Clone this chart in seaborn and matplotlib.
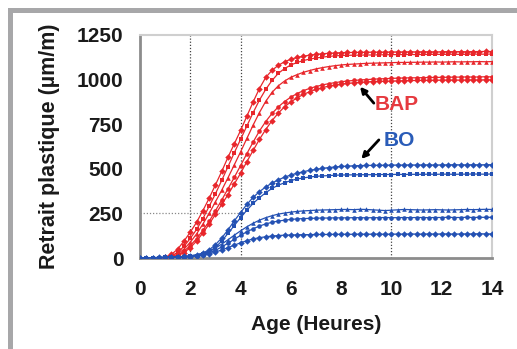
import numpy as np
import pandas as pd
import seaborn as sns
import matplotlib.pyplot as plt
from matplotlib.patches import Rectangle

# heures
t_bap = np.arange(1.0, 14.01, 0.25)
t_bo = np.arange(0.0, 14.01, 0.25)

# retrait plastique (µm/m) - BAP
bap_1 = [5, 20, 50, 95, 145, 200, 265, 335, 410, 485, 565, 640, 715, 795, 875, 950, 1012, 1052, 1080,
         1100, 1114, 1124, 1131, 1137, 1141, 1145, 1147, 1149, 1151,
         1152, 1152, 1153, 1153, 1154, 1154, 1154, 1155, 1155, 1155, 1156, 1155, 1156, 1156, 1155, 1156,
         1157, 1156, 1157, 1156, 1157, 1157, 1158, 1157]
bap_2 = [3, 12, 32, 65, 110, 160, 220, 290, 360, 435, 512, 590, 665, 740, 815, 885, 945, 995, 1035,
         1062, 1082, 1096, 1107, 1115, 1121, 1126, 1130, 1133, 1135,
         1136, 1137, 1137, 1138, 1138, 1139, 1139, 1140, 1140, 1140, 1141, 1140, 1141, 1141, 1142, 1141,
         1142, 1142, 1141, 1142, 1143, 1142, 1143, 1143]
bap_3 = [2, 8, 22, 50, 88, 135, 190, 250, 315, 380, 450, 522, 595, 670, 745, 815, 878, 928, 965,
         992, 1013, 1028, 1041, 1051, 1060, 1067, 1073, 1078, 1082,
         1085, 1087, 1089, 1091, 1092, 1093, 1094, 1095, 1096, 1096, 1097, 1097, 1098, 1098, 1099, 1098,
         1099, 1100, 1099, 1100, 1100, 1101, 1100, 1101]
bap_4 = [0, 5, 16, 38, 70, 108, 155, 205, 265, 325, 388, 452, 518, 585, 650, 712, 765, 810, 847,
         877, 902, 922, 938, 951, 961, 970, 977, 983, 988,
         992, 995, 998, 1000, 1002, 1004, 1005, 1007, 1008, 1009, 1010, 1010, 1011, 1012, 1012, 1013,
         1013, 1014, 1014, 1015, 1014, 1015, 1016, 1015]
bap_5 = [0, 3, 12, 30, 58, 95, 140, 190, 245, 300, 355, 415, 475, 540, 603, 665, 720, 770, 812,
         848, 875, 898, 917, 932, 945, 955, 963, 970, 975,
         979, 982, 985, 987, 989, 990, 991, 992, 993, 994, 995, 995, 996, 996, 997, 997,
         998, 998, 997, 998, 999, 998, 999, 999]

# retrait plastique (µm/m) - BO
bo_1 = [0, 1, 2, 3, 4, 5, 7, 9, 12, 18, 28, 45, 75, 112, 158, 208, 255, 300, 340, 372, 398, 420, 438,
        453, 465, 475, 484, 491, 497, 502, 507, 510, 513,
        515, 517, 518, 519, 519, 520, 520, 521, 521, 521, 522, 521, 522, 522, 521, 522, 522, 523, 522,
        522, 523, 522, 523, 523]
bo_2 = [0, 0, 1, 2, 3, 4, 5, 7, 10, 14, 22, 36, 60, 95, 138, 182, 226, 268, 306, 338, 366, 390, 408,
        422, 434, 443, 449, 454, 458, 460, 462, 464, 465,
        466, 466, 467, 467, 467, 468, 468, 468, 469, 468, 469, 469, 469, 470, 469, 470, 470, 469, 470,
        470, 471, 470, 470, 471]
bo_3 = [0, 1, 2, 3, 4, 5, 7, 9, 12, 17, 25, 38, 55, 78, 102, 128, 152, 175, 195, 212, 226, 237, 246,
        252, 257, 261, 264, 266, 268, 269, 270, 271, 272,
        272, 271, 273, 272, 270, 268, 266, 268, 270, 272, 271, 270, 269, 270, 271, 270, 269, 270, 271,
        272, 271, 272, 273, 272]
bo_4 = [0, 0, 1, 2, 3, 4, 5, 7, 9, 13, 19, 29, 43, 62, 83, 105, 127, 147, 164, 179, 191, 200, 207,
        212, 216, 219, 221, 222, 223, 224, 224, 225, 225,
        225, 226, 226, 225, 226, 226, 227, 226, 226, 227, 226, 227, 227, 226, 227, 227, 228, 227, 227,
        228, 227, 228, 228, 228]
bo_5 = [0, 1, 1, 2, 3, 4, 5, 6, 8, 11, 16, 23, 33, 45, 58, 72, 85, 97, 107, 114, 119, 123, 126,
        128, 129, 130, 131, 131, 132, 132, 132, 133, 133,
        133, 133, 134, 133, 134, 134, 133, 134, 134, 134, 135, 134, 134, 135, 134, 135, 135, 134, 135,
        135, 135, 136, 135, 135]

rouge = '#e8262b'
bleu = '#2451b3'

series = [('BAP1', t_bap, bap_1, rouge), ('BAP2', t_bap, bap_2, rouge), ('BAP3', t_bap, bap_3, rouge),
          ('BAP4', t_bap, bap_4, rouge), ('BAP5', t_bap, bap_5, rouge),
          ('BO1', t_bo, bo_1, bleu), ('BO2', t_bo, bo_2, bleu), ('BO3', t_bo, bo_3, bleu),
          ('BO4', t_bo, bo_4, bleu), ('BO5', t_bo, bo_5, bleu)]

frames = []
for nom, t, v, c in series:
    assert len(t) == len(v), nom
    frames.append(pd.DataFrame({'Age': t, 'Retrait': v, 'Serie': nom}))
df = pd.concat(frames, ignore_index=True)
palette = {nom: c for nom, _, _, c in series}

sns.set_theme(style='white')
plt.rcParams['font.family'] = ['Liberation Sans', 'DejaVu Sans']
plt.rcParams['font.weight'] = 'bold'

fig = plt.figure(figsize=(5.17, 3.49), dpi=100)
ax = fig.add_axes([140 / 517, 1 - 258 / 349, 352 / 517, 223 / 349])

# lignes de repère pointillées
for xv in [2, 4, 10]:
    ax.axvline(xv, color='#444444', linestyle=(0, (1, 1.5)), linewidth=0.9, zorder=1)
ax.plot([0, 4], [250, 250], color='#888888', linestyle=(0, (1, 1.5)), linewidth=0.9, zorder=1)

sns.lineplot(data=df, x='Age', y='Retrait', hue='Serie', style='Serie', palette=palette,
             markers=['D', 's', '^', 'o', 'D', 'D', 's', '^', 'o', 'D'], dashes=False,
             markersize=3.3, markeredgewidth=0, linewidth=0.9, legend=False, ax=ax, zorder=3)

ax.set_xlim(0, 14)
ax.set_ylim(0, 1250)
ax.set_xticks(range(0, 15, 2))
ax.set_yticks(range(0, 1251, 250))

ax.set_xlabel('Age (Heures)', fontsize=15, fontweight='bold', color='#1a1a1a', labelpad=11)
ax.set_ylabel('Retrait plastique (µm/m)', fontsize=15.5, fontweight='bold', color='#1a1a1a', labelpad=12)

ax.tick_params(axis='both', direction='out', length=5, width=1.5, color='#8c8c8c',
               labelsize=15, labelcolor='#1a1a1a')
ax.tick_params(axis='x', pad=11)
ax.tick_params(axis='y', pad=7)
for lab in ax.get_xticklabels() + ax.get_yticklabels():
    lab.set_fontweight('bold')

for side in ['left', 'bottom']:
    ax.spines[side].set_color('#8c8c8c')
    ax.spines[side].set_linewidth(2)
for side in ['top', 'right']:
    ax.spines[side].set_color('#cfcfcf')
    ax.spines[side].set_linewidth(1.5)

# annotations
ax.text(9.35, 860, 'BAP', color='#e63a3f', fontsize=15, fontweight='bold', va='center', ha='left')
ax.text(9.7, 660, 'BO', color='#2a5cb8', fontsize=15, fontweight='bold', va='center', ha='left')
fleche = dict(arrowstyle='-|>', color='black', lw=2, mutation_scale=9, shrinkA=0, shrinkB=0)
ax.annotate('', xy=(8.75, 960), xytext=(9.3, 868), arrowprops=fleche)
ax.annotate('', xy=(8.8, 555), xytext=(9.5, 662), arrowprops=fleche)

# cadre gris de la figure
fig.add_artist(Rectangle((8 / 517, 0), 5 / 517, 341 / 349, transform=fig.transFigure,
                         color='#a7a7a9', lw=0))
fig.add_artist(Rectangle((8 / 517, 1 - 13 / 349), 1 - 8 / 517, 5 / 349, transform=fig.transFigure,
                         color='#a7a7a9', lw=0))

plt.savefig('out.png', dpi=100)
plt.close()
